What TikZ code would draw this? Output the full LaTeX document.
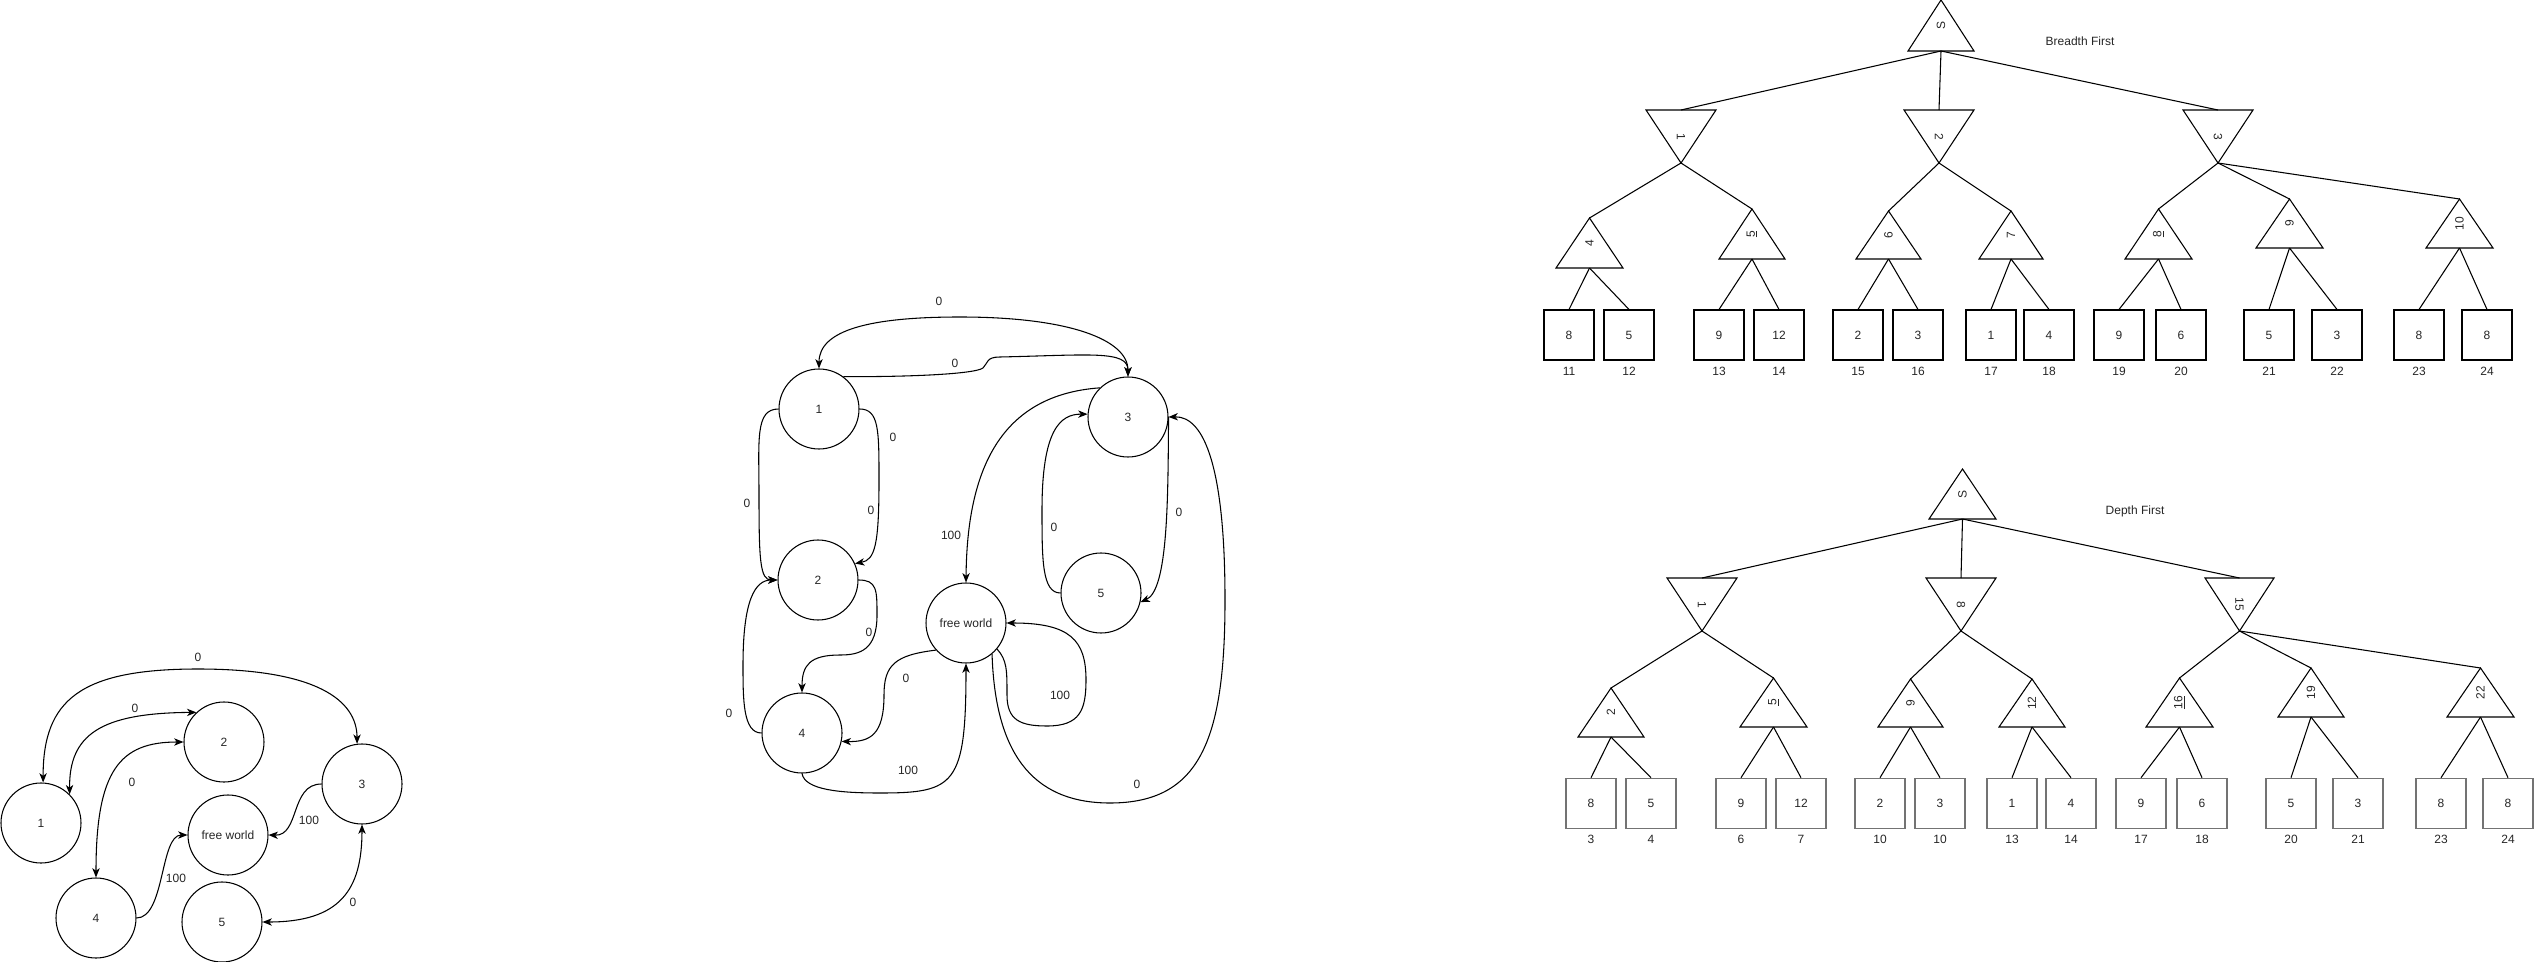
\documentclass[tikz,border=0pt]{standalone}
\usepackage{fontspec}
\setmainfont{Liberation Sans}
\usetikzlibrary{arrows.meta}
\newcommand{\uptri}[6]{%
  \coordinate (#1-n) at ({(#2+#3)/2},#4);
  \coordinate (#1-s) at ({(#2+#3)/2},#5);
  \draw[tri] (#1-n) -- (#3,#5) -- (#2,#5) -- cycle;
  \node[rotate=90, inner sep=0pt] (#1) at ({(#2+#3)/2},{(#4+#5)/2}) {#6};
}
\newcommand{\dntri}[6]{%
  \coordinate (#1-n) at ({(#2+#3)/2},#4);
  \coordinate (#1-s) at ({(#2+#3)/2},#5);
  \draw[tri] (#2,#4) -- (#3,#4) -- (#1-s) -- cycle;
  \node[rotate=-90, inner sep=0pt] (#1) at ({(#2+#3)/2},{(#4+#5)/2}) {#6};
}
\begin{document}
\begin{tikzpicture}[x=0.75pt,y=-0.75pt,
  every node/.style={text=black!85, font=\fontsize{9}{11}\selectfont},
  st/.style={circle, draw=black, minimum size=60pt, inner sep=0pt, line width=0.8pt},
  ed/.style={line width=0.8pt, draw=black},
  ar/.style={ed, -{Stealth[length=7pt,width=5.5pt,inset=2pt]}},
  arr/.style={ed, {Stealth[length=7pt,width=5.5pt,inset=2pt]}-{Stealth[length=7pt,width=5.5pt,inset=2pt]}},
  el/.style={inner sep=0pt},
  leaf/.style={draw=black, rectangle, minimum width=37.5pt, minimum height=37.5pt, inner sep=0pt, line width=0.8pt},
  leafg/.style={leaf, draw=black!55, line width=1.2pt},
  tri/.style={draw=black, line width=0.8pt},
  tl/.style={draw=black, line width=0.8pt}
]
\useasboundingbox (0,0) rectangle (2534,962);

% ---------------- left graph ----------------
\node[st] (a1) at (41,823) {1};
\node[st] (a2) at (224,742) {2};
\node[st] (a3) at (362,784) {3};
\node[st] (af) at (228,835) {free world};
\node[st] (a4) at (96,918) {4};
\node[st] (a5) at (222,922) {5};

\draw[arr] (a1.87) .. controls (43,700) and (80,669) .. (198,669) .. controls (316,669) and (357,700) .. (a3.97);
\draw[arr] (a1.45) .. controls (69,735) and (100,713) .. (a2.133);
\draw[arr] (a4.north) .. controls (96,770) and (120,742) .. (a2.west);
\draw[ar] (a4.east) .. controls (165,918) and (160,835) .. (af.west);
\draw[ar] (a3.west) .. controls (290,784) and (300,836) .. (af.east);
\draw[arr] (a5.east) .. controls (340,922) and (362,890) .. (a3.south);

\node[el] (la1) at (198,657) {0};
\node[el] (la2) at (135,708) {0};
\node[el] (la3) at (132,782) {0};
\node[el] (la4) at (176,878) {100};
\node[el] (la5) at (309,820) {100};
\node[el] (la6) at (353,902) {0};

% ---------------- middle graph ----------------
\node[st] (m1) at (819,409) {1};
\node[st] (m2) at (818,580) {2};
\node[st] (m3) at (1128,417) {3};
\node[st] (m5) at (1101,593) {5};
\node[st] (mf) at (966,623) {free world};
\node[st] (m4) at (802,733) {4};

\draw[arr] (m1.north) .. controls (819,330) and (870,317) .. (960,317) .. controls (1070,317) and (1128,340) .. (m3.north);
\draw[ar] (m1.53) .. controls (910,377) and (975,374) .. (983,368) .. controls (988,363) and (986,357) .. (1000,357) .. controls (1090,355) and (1128,350) .. (m3.north);
\draw[ar] (m1.west) .. controls (755,409) and (759,440) .. (759,495) .. controls (759,560) and (760,580) .. (m2.west);
\draw[ar] (m1.east) .. controls (879,409) and (879,430) .. (879,480) .. controls (879,545) and (875,560) .. (m2.24);
\draw[ar] (m2.east) .. controls (877,580) and (877,590) .. (877,615) .. controls (877,650) and (860,655) .. (840,655) .. controls (810,655) and (802,665) .. (m4.north);
\draw[ar] (m4.west) .. controls (743,733) and (743,700) .. (743,665) .. controls (743,600) and (755,580) .. (m2.west);
\draw[ar] (mf.222) .. controls (895,655) and (884,665) .. (884,695) .. controls (884,735) and (870,742) .. (m4.-12);
\draw[ar] (m4.south) .. controls (805,790) and (840,793) .. (880,793) .. controls (955,793) and (966,785) .. (mf.south);
\draw[ar] (m3.134) .. controls (1000,395) and (967,470) .. (mf.north);
\draw[ar] (m5.west) .. controls (1042,593) and (1042,560) .. (1042,510) .. controls (1042,430) and (1060,414) .. (m3.176);
\draw[ar] (m3.east) .. controls (1168,500) and (1168,590) .. (m5.-13);
\draw[ar] (mf.-40) .. controls (1007,660) and (1007,670) .. (1007,695) .. controls (1007,720) and (1020,726) .. (1047,726) .. controls (1080,726) and (1086,710) .. (1086,680) .. controls (1086,640) and (1070,623) .. (mf.east);
\draw[ar] (mf.-50) .. controls (995,750) and (1030,803) .. (1110,803) .. controls (1200,803) and (1225,740) .. (1225,600) .. controls (1225,470) and (1205,416) .. (m3.east);

\node[el] (lm1) at (939,301) {0};
\node[el] (lm2) at (955,363) {0};
\node[el] (lm3) at (893,437) {0};
\node[el] (lm4) at (871,510) {0};
\node[el] (lm5) at (747,503) {0};
\node[el] (lm6) at (951,535) {100};
\node[el] (lm7) at (869,632) {0};
\node[el] (lm8) at (729,713) {0};
\node[el] (lm9) at (906,678) {0};
\node[el] (lm10) at (908,770) {100};
\node[el] (lm11) at (1054,527) {0};
\node[el] (lm12) at (1179,512) {0};
\node[el] (lm13) at (1060,695) {100};
\node[el] (lm14) at (1137,784) {0};

% ---------------- breadth first tree ----------------
\node (bft) at (2080,41) {Breadth First};
\uptri{BS}{1908}{1974}{0}{51}{S}
\dntri{B1}{1646}{1716}{110}{163}{1}
\dntri{B2}{1904}{1974}{110}{163}{2}
\dntri{B3}{2183}{2253}{110}{163}{3}
\uptri{B4}{1556}{1623}{218}{268}{4}
\uptri{B5}{1719}{1785}{209}{259}{\underline{5}}
\uptri{B6}{1856}{1921}{211}{259}{6}
\uptri{B7}{1979}{2043}{211}{259}{7}
\uptri{B8}{2125}{2192}{209}{259}{\underline{8}}
\uptri{B9}{2256}{2323}{199}{248}{9}
\uptri{B10}{2426}{2493}{199}{248}{10}
\foreach \p/\c in {BS/B1,BS/B2,BS/B3,B1/B4,B1/B5,B2/B6,B2/B7,B3/B8,B3/B9,B3/B10}
  \draw[tl] (\p-s) -- (\c-n);
\foreach \k/\x/\v/\c in {1/1569/8/11,2/1629/5/12,3/1719/9/13,4/1779/12/14,5/1858/2/15,6/1918/3/16,7/1991/1/17,8/2049/4/18,9/2119/9/19,10/2181/6/20,11/2269/5/21,12/2337/3/22,13/2419/8/23,14/2487/8/24}{
  \node[leaf] (bl\k) at (\x,335) {\v};
  \node (bc\k) at (\x,371) {\c};
}
\foreach \p/\k in {B4/1,B4/2,B5/3,B5/4,B6/5,B6/6,B7/7,B7/8,B8/9,B8/10,B9/11,B9/12,B10/13,B10/14}
  \draw[tl] (\p-s) -- (bl\k.north);

% ---------------- depth first tree ----------------
\node (dft) at (2135,511) {Depth First};
\uptri{DS}{1929}{1996}{469}{519}{S}
\dntri{D1}{1667}{1737}{578}{631}{1}
\dntri{D8}{1926}{1996}{578}{631}{8}
\dntri{D15}{2205}{2274}{578}{631}{15}
\uptri{D2}{1578}{1644}{688}{737}{2}
\uptri{D5}{1740}{1807}{678}{727}{\underline{5}}
\uptri{D9}{1878}{1943}{679}{727}{9}
\uptri{D12}{1999}{2065}{679}{727}{12}
\uptri{D16}{2146}{2213}{678}{727}{\underline{16}}
\uptri{D19}{2278}{2344}{668}{717}{19}
\uptri{D22}{2447}{2514}{668}{717}{22}
\foreach \p/\c in {DS/D1,DS/D8,DS/D15,D1/D2,D1/D5,D8/D9,D8/D12,D15/D16,D15/D19,D15/D22}
  \draw[tl] (\p-s) -- (\c-n);
\foreach \k/\x/\v/\c in {1/1591/8/3,2/1651/5/4,3/1741/9/6,4/1801/12/7,5/1880/2/10,6/1940/3/10,7/2012/1/13,8/2071/4/14,9/2141/9/17,10/2202/6/18,11/2291/5/20,12/2358/3/21,13/2441/8/23,14/2508/8/24}{
  \node[leafg] (dl\k) at (\x,803.5) {\v};
  \node (dc\k) at (\x,839) {\c};
}
\foreach \p/\k in {D2/1,D2/2,D5/3,D5/4,D9/5,D9/6,D12/7,D12/8,D16/9,D16/10,D19/11,D19/12,D22/13,D22/14}
  \draw[tl] (\p-s) -- (dl\k.north);
\end{tikzpicture}
\end{document}
